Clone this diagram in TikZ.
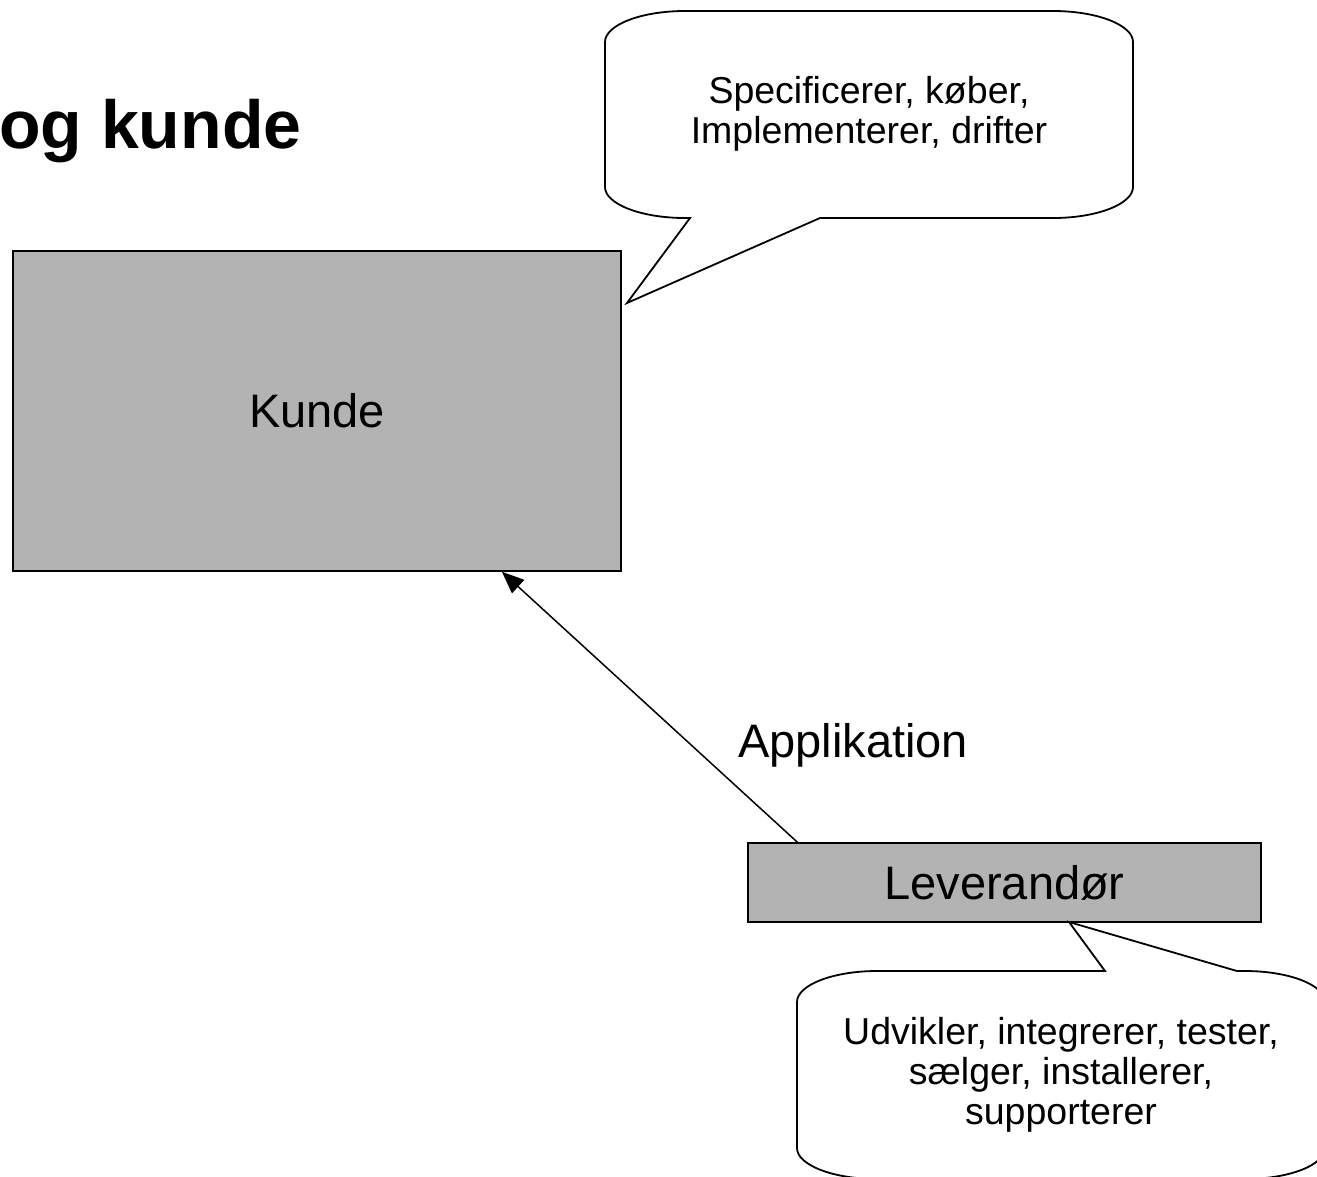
\documentclass[tikz,border=0pt]{standalone}
\usepackage{fontspec}
\setmainfont{Liberation Sans}
\usetikzlibrary{arrows.meta, positioning}
\definecolor{kgray}{RGB}{179,179,179}
\tikzset{
  box/.style={draw, fill=kgray, line width=1.5pt, inner sep=0pt, font=\fontsize{47}{54}\selectfont},
  bigtxt/.style={inner sep=0pt, font=\fontsize{47}{54}\selectfont},
  calltxt/.style={inner sep=0pt, align=center, font=\fontsize{37.5}{40}\selectfont},
  callout/.style={draw, fill=white, line width=1.8pt, line join=miter},
  line/.style={-{Triangle[length=22pt, width=18pt]}, line width=1.5pt},
  title/.style={inner sep=0pt, font=\fontsize{68}{78}\selectfont\bfseries}
}
\begin{document}
\begin{tikzpicture}[x=1pt, y=-1pt]
    \useasboundingbox (0,0) rectangle (1317,1176);

    \node[title, anchor=base west] (ttl) at (-1,148) {og kunde};

    \node[box, minimum width=608pt, minimum height=320pt] (kunde) at (317,411) {Kunde};
    \node[box, minimum width=513pt, minimum height=79pt] (lev) at (1004.5,882.5) {Leverandør};
    \node[bigtxt, anchor=base west] (app) at (738,757) {Applikation};

    % callout over the customer
    \draw[callout] (685,11) -- (1053,11)
      .. controls (1097,11) and (1133,25) .. (1133,42) -- (1133,187)
      .. controls (1133,204) and (1097,218) .. (1053,218) -- (820,218)
      -- (627,303) -- (690,218) -- (685,218)
      .. controls (641,218) and (605,204) .. (605,187) -- (605,42)
      .. controls (605,25) and (641,11) .. (685,11) -- cycle;
    \node[calltxt] (kundetxt) at (869,114) {Specificerer, køber,\\Implementerer, drifter};

    % callout under the supplier
    \draw[callout] (877,971) -- (1105,971) -- (1069,922) -- (1237,971) -- (1245,971)
      .. controls (1289,971) and (1325,985) .. (1325,1002) -- (1325,1148)
      .. controls (1325,1165) and (1289,1179) .. (1245,1179) -- (877,1179)
      .. controls (833,1179) and (797,1165) .. (797,1148) -- (797,1002)
      .. controls (797,985) and (833,971) .. (877,971) -- cycle;
    \node[calltxt] (levtxt) at (1061,1075) {Udvikler, integrerer, tester,\\sælger, installerer,\\supporterer};

    \draw[line] (lev.169.2) -- (kunde.-41.8);

\end{tikzpicture}
\end{document}
